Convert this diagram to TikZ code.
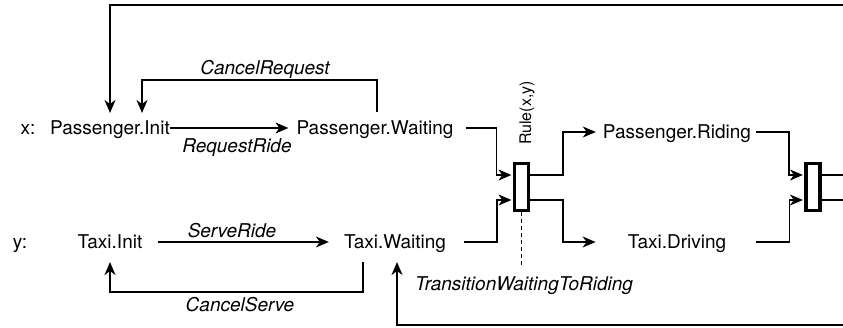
\documentclass[tikz,border=0pt]{standalone}
\usepackage{fontspec}
\setmainfont{TeX Gyre Heros}
\usetikzlibrary{arrows.meta}

\begin{document}
\begin{tikzpicture}[
  x=1pt, y=1pt,
  font=\fontsize{19}{22}\selectfont,
  state/.style={inner sep=0pt, text height=13.6pt, text depth=0pt},
  event/.style={state, font=\fontsize{19}{22}\selectfont\itshape},
  rulebox/.style={draw, line width=3.2pt, fill=white, minimum width=14pt, minimum height=47pt, inner sep=0pt},
  link/.style={line width=1.5pt},
  arr/.style={link, -{Stealth[length=13pt,width=11pt,inset=4pt]}}
]
\useasboundingbox (0,0) rectangle (843,327);
% variable labels
\node[state] (lx) at (28,199) {x:};
\node[state] (ly) at (20,85) {y:};
% states
\foreach \n/\x/\y/\txt in {pinit/110/199/{Passenger.Init}, pwait/375/199/{Passenger.Waiting},
  priding/677/195/{Passenger.Riding}, tinit/110/85/{Taxi.Init}, twait/395/85/{Taxi.Waiting},
  tdrive/677/85/{Taxi.Driving}} {
  \node[state] (\n) at (\x,\y) {\txt};
}
% rule boxes
\node[rulebox] (rule) at (521.5,140) {};
\node[rulebox] (join) at (813,140) {};
\node[rotate=90, font=\fontsize{16}{18}\selectfont] (rulelbl) at (527,214) {Rule(x,y)};
% event labels
\node[event] (ecreq) at (265,259) {CancelRequest};
\node[event] (erreq) at (237,181) {RequestRide};
\node[event] (esrv) at (232,96) {ServeRide};
\node[event] (ecsrv) at (240,22) {CancelServe};
\node[event] (etrans) at (524,43) {TransitionWaitingToRiding};
% border ends
\coordinate (xback) at (843,322);
\coordinate (yback) at (843,2);
\coordinate (xout) at (843,152);
\coordinate (yout) at (843,127);
% local transitions
\draw[arr, shorten >=8pt] (pinit.east) -- (pwait.west);
\draw[arr] ([xshift=2pt,yshift=9pt]pwait.north) -- ++(0,32) -| ([xshift=32pt,yshift=8pt]pinit.north);
\draw[arr, shorten <=15pt, shorten >=15pt] (tinit.east) -- (twait.west);
\draw[arr] ([xshift=-32pt,yshift=-13pt]twait.south) -- ++(0,-30) -| ([yshift=-13pt]tinit.south);
% feedback from the right
\draw[arr] (xback) -| ([yshift=8pt]pinit.north);
\draw[arr] (yback) -| ([xshift=2pt,yshift=-13pt]twait.south);
% synchronised rule
\draw[arr, shorten >=1.5pt] ([xshift=12pt]pwait.east) -- ++(31,0) |- ([yshift=12pt]rule.west);
\draw[arr, shorten >=1.5pt] ([xshift=18pt]twait.east) -- ++(33,0) |- ([yshift=-13pt]rule.west);
\draw[arr] ([yshift=12pt]rule.east) -- ++(33,0) |- ([xshift=-7pt]priding.west);
\draw[arr] ([yshift=-13pt]rule.east) -- ++(33,0) |- ([xshift=-32pt]tdrive.west);
\draw[link, dash pattern=on 4pt off 3pt] (rule.south) -- ++(0,-55);
\draw[arr, shorten >=1.5pt] ([xshift=5pt]priding.east) -- ++(33,0) |- ([yshift=12pt]join.west);
\draw[arr, shorten >=1.5pt] ([xshift=30pt]tdrive.east) -- ++(33,0) |- ([yshift=-13pt]join.west);
\draw[link] ([yshift=12pt]join.east) -- (xout);
\draw[link] ([yshift=-13pt]join.east) -- (yout);
\end{tikzpicture}
\end{document}
